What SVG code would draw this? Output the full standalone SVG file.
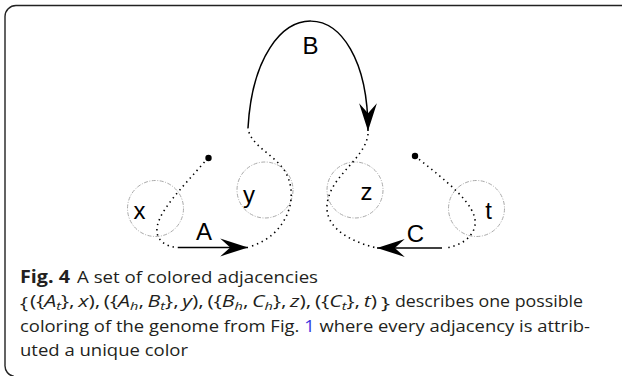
<svg xmlns="http://www.w3.org/2000/svg" width="622" height="376" viewBox="0 0 622 376">
<defs>
<style>
.lbl{font-family:"Liberation Sans",Arial,sans-serif;font-size:24px;fill:#000;text-anchor:middle}
.cap{font-family:"Open Sans","Noto Sans",sans-serif;font-size:17px;fill:#231f20}
.b{font-weight:bold}
.i{font-style:italic}
.sub{font-size:11.5px;font-style:italic}
.ring{fill:none;stroke:#aaa;stroke-width:1;stroke-dasharray:4 1.5 1 1.5}
.dot{fill:none;stroke:#000;stroke-width:1.6;stroke-dasharray:1.4 3.8}
.solid{fill:none;stroke:#000;stroke-width:1.5}
.end{fill:#000}
.link{fill:#3a3adf}
</style>
<marker id="arr" markerUnits="userSpaceOnUse" markerWidth="30" markerHeight="20" viewBox="-26 -9 27 18" refX="0" refY="0" orient="auto">
<path d="M0,0 L-25,-8 L-16,0 L-25,8 Z" fill="#000"/>
</marker>
</defs>
<path d="M622,5.5 H16 A11,11 0 0 0 5,16.5 V365 A11,11 0 0 0 14,376.5" fill="none" stroke="#222" stroke-width="1.4"/>
<g id="node-x"><circle class="ring" cx="155.5" cy="208.5" r="28"/><text class="lbl" x="139.5" y="219">x</text></g>
<g id="node-y"><circle class="ring" cx="265" cy="190" r="28"/><text class="lbl" x="249" y="203">y</text></g>
<g id="node-z"><circle class="ring" cx="355" cy="190" r="28"/><text class="lbl" x="366.5" y="200">z</text></g>
<g id="node-t"><circle class="ring" cx="476.5" cy="208.5" r="28"/><text class="lbl" x="488.5" y="219">t</text></g>
<g id="connectors">
<circle class="end" cx="208.5" cy="158" r="3.2"/>
<circle class="end" cx="415" cy="156" r="3.2"/>
<path class="dot" d="M208,158 C182,188 155,214 157,232 C158,242 168,247 178,247.5"/>
<path class="solid" d="M178,247.5 H248" marker-end="url(#arr)"/>
<path class="dot" d="M252,246 C285,235 300,200 286,173 C276,155 250,146 248,128"/>
<path class="solid" d="M248,128 C256,-15 368,-15 368,131" marker-end="url(#arr)"/>
<path class="dot" d="M368,134 C365,160 330,175 327,205 C325,230 355,243 377,248"/>
<path class="solid" d="M442,248 H377" marker-end="url(#arr)"/>
<path class="dot" d="M415,156 C445,180 478,205 475,225 C473,238 460,246 445,248"/>
<text class="lbl" x="204" y="240">A</text>
<text class="lbl" x="310.5" y="54">B</text>
<text class="lbl" x="415.5" y="241.5">C</text>
</g>
<g id="caption">
<text class="cap b" x="20" y="283" textLength="50" lengthAdjust="spacingAndGlyphs">Fig. 4</text>
<text class="cap" x="77" y="283" textLength="241" lengthAdjust="spacingAndGlyphs">A set of colored adjacencies</text>
<text class="cap" x="20" y="309" font-size="29" textLength="8" lengthAdjust="spacingAndGlyphs">{</text>
<text class="cap" x="30" y="307" textLength="347" lengthAdjust="spacingAndGlyphs">({<tspan class="i">A</tspan><tspan class="sub" dy="3">t</tspan><tspan dy="-3">},&#8201;</tspan><tspan class="i">x</tspan>),&#8201;({<tspan class="i">A</tspan><tspan class="sub" dy="3">h</tspan><tspan dy="-3">,&#8201;</tspan><tspan class="i">B</tspan><tspan class="sub" dy="3">t</tspan><tspan dy="-3">},&#8201;</tspan><tspan class="i">y</tspan>),&#8201;({<tspan class="i">B</tspan><tspan class="sub" dy="3">h</tspan><tspan dy="-3">,&#8201;</tspan><tspan class="i">C</tspan><tspan class="sub" dy="3">h</tspan><tspan dy="-3">},&#8201;</tspan><tspan class="i">z</tspan>),&#8201;({<tspan class="i">C</tspan><tspan class="sub" dy="3">t</tspan><tspan dy="-3">},&#8201;</tspan><tspan class="i">t</tspan>)</text>
<text class="cap" x="381" y="309" font-size="29" textLength="9" lengthAdjust="spacingAndGlyphs">}</text>
<text class="cap" x="395" y="307" textLength="188" lengthAdjust="spacingAndGlyphs">describes one possible</text>
<text class="cap" x="20" y="332" textLength="570" lengthAdjust="spacingAndGlyphs">coloring of the genome from Fig. <tspan class="link">1</tspan> where every adjacency is attrib-</text>
<text class="cap" x="20" y="356" textLength="168" lengthAdjust="spacingAndGlyphs">uted a unique color</text>
</g>
</svg>
